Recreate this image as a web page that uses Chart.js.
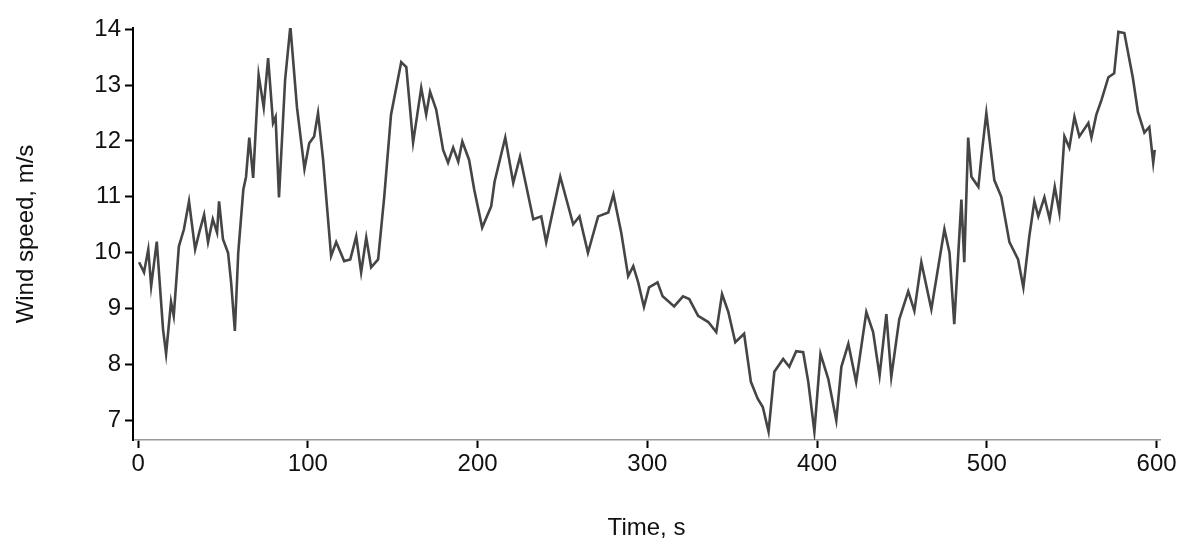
<!DOCTYPE html>
<html><head><meta charset="utf-8">
<script src="https://cdn.jsdelivr.net/npm/chart.js@4"></script>
<style>html,body{margin:0;padding:0;background:#fff}#w{width:1184px;height:543px}</style>
</head><body><div id="w"><canvas id="c"></canvas></div>
<script>
const timeS = [0.6,3.5,6,7.7,11,14.7,16.5,19.4,21,24,27,30,33.6,36,38.9,41.2,44,46.5,47.7,50,53,54.8,57,59,62,63.6,65.5,67.8,71,74,76.6,79.5,81,83,86.6,89.7,93.6,98,100.8,103.7,106,109,113.7,116.7,121.4,125,128.5,131.4,134.4,137.3,141.4,145,149,155,158,162,166.8,169.7,172,175.6,179.7,182.6,185.6,188.6,191,195,198,202.7,208,210,216.3,221,225,232.8,237.5,240.4,248.7,256.3,260,265,271,277,280,284.6,288.7,291.7,294.6,298,301,306,309,315.8,321,324.7,329.9,335.9,340.6,344,347.7,351.8,357,361,365,368,371.4,374.8,380,383.6,387.7,391.8,394.8,398.4,402,406.6,411.3,414.3,418.4,423,429,433,436.8,440.8,443.7,448.4,453.7,457.3,461.4,467.3,475,478,480.8,485,486.7,489,490.9,495,496.8,499.7,504.4,508.5,513.3,518.4,521.5,525,528,530.3,533.9,537,540,542.7,545.7,548.6,551.6,554.5,559.8,561.6,564.5,567.5,571.6,575,577.5,581,586,589,592.8,595.7,598,598.9];
const windSpeed = [9.83,9.65,10.06,9.4,10.2,8.63,8.19,9.12,8.87,10.11,10.42,10.92,10.06,10.36,10.68,10.19,10.6,10.36,10.92,10.24,10.0,9.47,8.6,10.0,11.13,11.36,12.06,11.34,13.18,12.6,13.48,12.32,12.43,10.99,13.09,14.05,12.6,11.5,11.96,12.08,12.5,11.66,9.94,10.19,9.85,9.88,10.29,9.65,10.27,9.74,9.88,11.0,12.47,13.41,13.32,11.97,12.95,12.47,12.88,12.56,11.84,11.61,11.88,11.63,11.99,11.66,11.13,10.45,10.83,11.27,12.06,11.25,11.72,10.6,10.65,10.19,11.36,10.51,10.65,10.0,10.65,10.72,11.04,10.36,9.58,9.76,9.47,9.03,9.38,9.47,9.22,9.04,9.22,9.17,8.87,8.76,8.58,9.26,8.94,8.4,8.55,7.69,7.39,7.24,6.8,7.87,8.1,7.96,8.24,8.22,7.69,6.8,8.19,7.74,7.0,7.96,8.37,7.69,8.94,8.58,7.8,8.9,7.78,8.81,9.31,8.96,9.83,8.99,10.42,10.0,8.72,10.95,9.83,12.06,11.36,11.18,11.72,12.5,11.3,11.0,10.19,9.88,9.38,10.29,10.92,10.65,10.99,10.6,11.18,10.72,12.08,11.88,12.43,12.08,12.32,12.06,12.47,12.73,13.14,13.21,13.95,13.93,13.13,12.52,12.15,12.25,11.61,11.84];
const xTitle = "Time, s";
const yTitle = "Wind speed, m/s";
const pts = timeS.map((t,i)=>({x:t,y:windSpeed[i]}));
const font = {family:"Liberation Sans, Arial, sans-serif", size:24};
new Chart(document.getElementById('c'),{
  type:'scatter',
  data:{datasets:[{data:pts,showLine:true,borderColor:'#454545',borderWidth:2.6,pointRadius:0,tension:0}]},
  options:{responsive:true,maintainAspectRatio:false,animation:false,
    layout:{padding:{top:28,right:24,left:8,bottom:0}},
    plugins:{legend:{display:false},tooltip:{enabled:false}},
    scales:{
      x:{type:'linear',min:-3,max:602,
        afterFit:s=>{s.height=103;},
        afterBuildTicks:s=>{s.ticks=[0,100,200,300,400,500,600].map(v=>({value:v}));},
        grid:{display:true,drawOnChartArea:false,drawTicks:true,tickLength:8,color:'#000',tickWidth:2},
        border:{display:true,color:'#999',width:1.5},
        ticks:{color:'#111',font:font,padding:2,maxRotation:0},
        title:{display:true,text:xTitle,color:'#111',font:font,padding:{top:0,bottom:0}}},
      y:{min:6.65,max:14.02,
        afterFit:s=>{s.width=125;},
        afterBuildTicks:s=>{s.ticks=[7,8,9,10,11,12,13,14].map(v=>({value:v}));},
        grid:{display:true,drawOnChartArea:false,drawTicks:true,tickLength:8,color:'#000',tickWidth:2},
        border:{display:true,color:'#000',width:2},
        ticks:{color:'#111',font:font,padding:4},
        title:{display:true,text:yTitle,color:'#111',font:font,padding:{bottom:4}}}
    }}
});
</script></body></html>
